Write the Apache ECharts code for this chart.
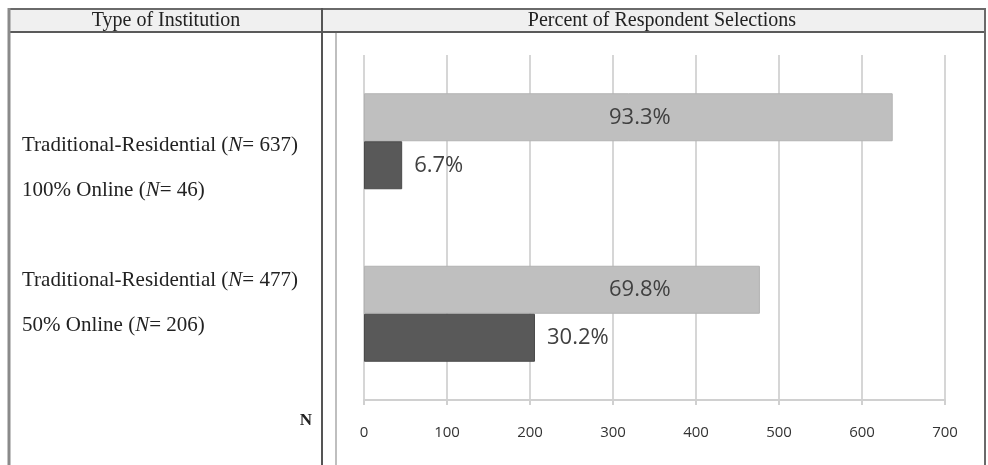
<!DOCTYPE html>
<html>
<head>
<meta charset="utf-8">
<script src="https://cdn.jsdelivr.net/npm/echarts@6/dist/echarts.min.js"></script>
<style>
  html, body { margin: 0; padding: 0; background: #fff; }
  #chart { width: 988px; height: 465px; }
</style>
</head>
<body>
<div id="chart"></div>
<script>
// data
const groups = ['100% Online', '50% Online'];
const traditional = [637, 477];
const online = [46, 206];
const xTicks = [0, 100, 200, 300, 400, 500, 600, 700];
const rowLabels = [
  ['Traditional-Residential (', 'N', '= 637)'],
  ['100% Online (', 'N', '= 46)'],
  ['Traditional-Residential (', 'N', '= 477)'],
  ['50% Online (', 'N', '= 206)']
];
const rowLabelY = [145, 190, 280, 325];

const pct = (v, i) => (v / (traditional[i] + online[i]) * 100).toFixed(1) + '%';

const chart = echarts.init(document.getElementById('chart'));

const serif = '"Liberation Serif", "DejaVu Serif", serif';
const line = (x1, y1, x2, y2, color, w) => ({
  type: 'line', silent: true,
  shape: { x1, y1, x2, y2 },
  style: { stroke: color, lineWidth: w }
});

const graphics = [
  { type: 'rect', shape: { x: 8, y: 9, width: 978, height: 23 }, style: { fill: '#f0f0f0' }, silent: true },
  line(8, 9, 986, 9, '#6a6a6a', 2),
  line(8, 32, 986, 32, '#5a5a5a', 2),
  line(9, 8, 9, 465, '#8a8a8a', 3),
  line(322, 8, 322, 465, '#555', 2),
  line(336, 33, 336, 465, '#aaa', 1.5),
  line(985, 8, 985, 465, '#6a6a6a', 2),
  {
    type: 'text', x: 166, y: 21,
    style: { text: 'Type of Institution', font: '20px ' + serif, fill: '#222', align: 'center', verticalAlign: 'middle' }
  },
  {
    type: 'text', x: 662, y: 21,
    style: { text: 'Percent of Respondent Selections', font: '20px ' + serif, fill: '#222', align: 'center', verticalAlign: 'middle' }
  },
  {
    type: 'text', x: 306, y: 421,
    style: { text: 'N', font: 'bold 17px ' + serif, fill: '#222', align: 'center', verticalAlign: 'middle' }
  }
];

rowLabels.forEach((parts, i) => {
  graphics.push({
    type: 'text', x: 22, y: rowLabelY[i],
    style: {
      text: '{r|' + parts[0] + '}{i|' + parts[1] + '}{r|' + parts[2] + '}',
      verticalAlign: 'middle',
      rich: {
        r: { fontFamily: serif, fontSize: 21, fill: '#222' },
        i: { fontFamily: serif, fontSize: 21, fontStyle: 'italic', fill: '#222' }
      }
    }
  });
});

chart.setOption({
  animation: false,
  backgroundColor: '#fff',
  grid: { left: 364, right: 43, top: 55, bottom: 65 },
  xAxis: {
    type: 'value',
    min: xTicks[0],
    max: xTicks[xTicks.length - 1],
    interval: 100,
    axisLine: { show: true, lineStyle: { color: '#d0d0d0', width: 2 } },
    axisTick: { show: true, length: 5, lineStyle: { color: '#d0d0d0', width: 2 } },
    splitLine: { show: true, lineStyle: { color: '#d6d6d6', width: 2 } },
    axisLabel: { margin: 25, fontFamily: '"Open Sans", sans-serif', fontSize: 15, color: '#333' }
  },
  yAxis: {
    type: 'category',
    data: groups,
    inverse: true,
    axisLine: { show: false },
    axisTick: { show: false },
    axisLabel: { show: false },
    splitLine: { show: false }
  },
  series: [
    {
      name: 'Traditional-Residential',
      type: 'bar',
      data: traditional,
      barWidth: 48,
      barGap: '0%',
      itemStyle: { color: '#bfbfbf', borderColor: '#b3b3b3', borderWidth: 1 },
      label: {
        show: true, position: 'insideLeft', distance: 245,
        fontFamily: '"Open Sans", sans-serif', fontSize: 22, color: '#404040',
        formatter: p => pct(p.value, p.dataIndex)
      }
    },
    {
      name: 'Online',
      type: 'bar',
      data: online,
      barWidth: 48,
      barGap: '0%',
      itemStyle: { color: '#595959', borderColor: '#4a4a4a', borderWidth: 1 },
      label: {
        show: true, position: 'right', distance: 12,
        fontFamily: '"Open Sans", sans-serif', fontSize: 22, color: '#404040',
        formatter: p => pct(p.value, p.dataIndex)
      }
    }
  ],
  graphic: graphics
});
</script>
</body>
</html>
